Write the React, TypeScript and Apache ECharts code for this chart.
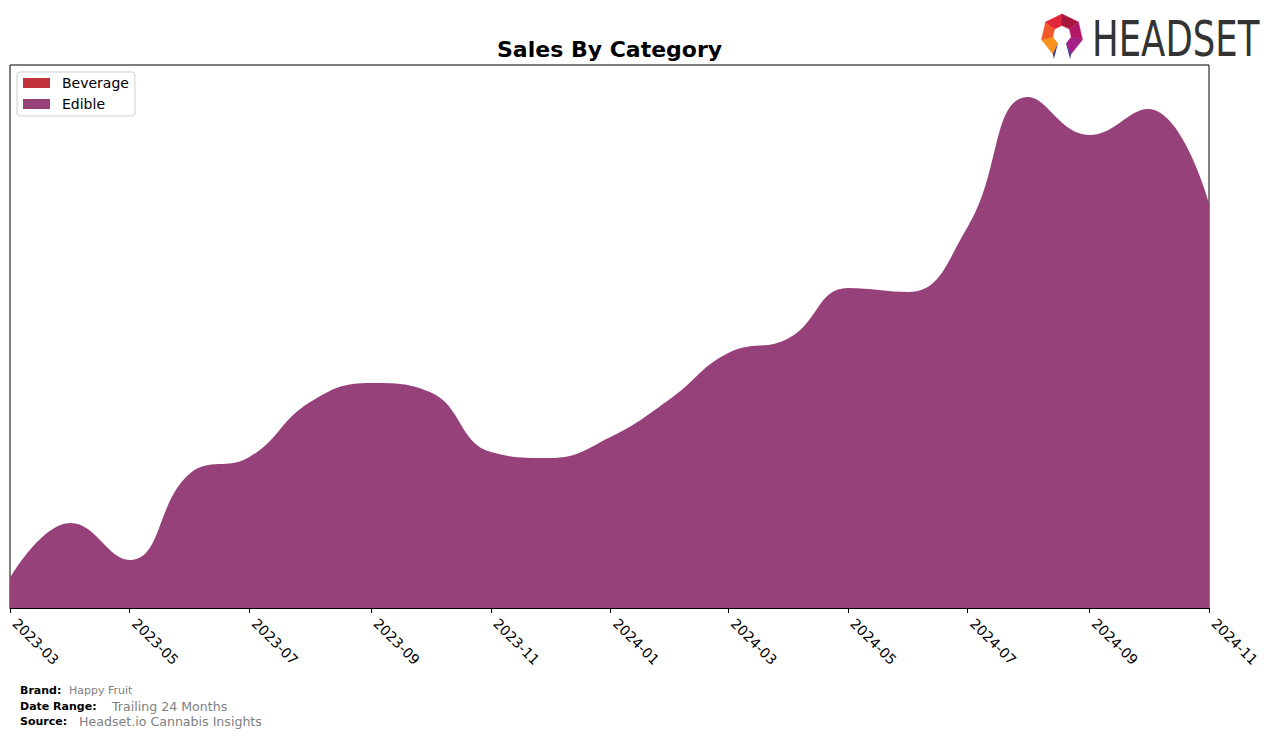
import React, { useEffect, useRef } from "react";
import * as echarts from "echarts";

const months = [
  "2023-03", "2023-04", "2023-05", "2023-06", "2023-07", "2023-08", "2023-09",
  "2023-10", "2023-11", "2023-12", "2024-01", "2024-02", "2024-03", "2024-04",
  "2024-05", "2024-06", "2024-07", "2024-08", "2024-09", "2024-10", "2024-11",
];
const edibleValues = [
  30, 85, 48, 135, 151, 206, 225, 216, 156, 150, 171, 210, 255, 270, 320, 316,
  381, 511, 473, 499, 405,
];
const beverageValues = [
  0, 0, 0, 0, 0, 0, 0, 0, 0, 0, 0, 0, 0, 0, 0, 0, 0, 0, 0, 0, 0,
];
const tickLabels = [
  "2023-03", "2023-05", "2023-07", "2023-09", "2023-11", "2024-01",
  "2024-03", "2024-05", "2024-07", "2024-09", "2024-11",
];
const yMax = 543;

const toTs = (s: string) => {
  const [y, m] = s.split("-").map(Number);
  return Date.UTC(y, m - 1, 1);
};
const fmt = (v: number) => {
  const d = new Date(v);
  const m = d.getUTCMonth() + 1;
  return d.getUTCFullYear() + "-" + (m < 10 ? "0" + m : "" + m);
};

const FONT = "DejaVu Sans";

function logoElements() {
  const cx = 1062;
  const cy = 35;
  const R = 21;
  const r = 9.5;
  const n = 7;
  const pt = (k: number, rad: number) => {
    const a = (k * 2 * Math.PI) / n;
    return [cx + rad * Math.sin(a), cy - rad * Math.cos(a)];
  };
  const edges = [
    { k: 4, color: "#f7931e" },
    { k: 5, color: "#f1592a" },
    { k: 6, color: "#e1263c" },
    { k: 0, color: "#a9173f" },
    { k: 1, color: "#b41768" },
    { k: 2, color: "#a51f86" },
  ];
  const els: any[] = edges.map((e) => ({
    type: "polygon",
    shape: {
      points: [pt(e.k, R), pt(e.k + 1, R), pt(e.k + 1, r), pt(e.k, r)],
    },
    style: { fill: e.color, stroke: e.color, lineWidth: 0.5 },
  }));
  const o3 = pt(3, R);
  const i3 = pt(3, r);
  const o4 = pt(4, R);
  const i4 = pt(4, r);
  els.push({
    type: "polygon",
    shape: { points: [o3, i3, [o3[0] - 1, 59]] },
    style: { fill: "#3b3296" },
  });
  els.push({
    type: "polygon",
    shape: { points: [i3, [i3[0] + 6, o3[1] + 2], o3] },
    style: { fill: "#6a58d6" },
  });
  els.push({
    type: "polygon",
    shape: { points: [o4, i4, [o4[0] + 1, 59]] },
    style: { fill: "#3b3296" },
  });
  els.push({
    type: "polygon",
    shape: { points: [i4, [i4[0] - 6, o4[1] + 2], o4] },
    style: { fill: "#6a58d6" },
  });
  els.push({
    type: "text",
    x: 1092,
    y: 39,
    scaleX: 0.71,
    style: {
      text: "HEADSET",
      fontFamily: FONT,
      fontSize: 50,
      fill: "#333333",
      textVerticalAlign: "middle",
      textAlign: "left",
    },
  });
  return els;
}

export default function App() {
  const ref = useRef<HTMLDivElement>(null);
  useEffect(() => {
    if (!ref.current) return;
    const chart = echarts.init(ref.current, undefined, { renderer: "svg" });
    const tickTs = tickLabels.map(toTs);
    const xs = months.map(toTs);
    const option: any = {
      animation: false,
      backgroundColor: "#ffffff",
      title: {
        text: "Sales By Category",
        left: 492,
        top: 33,
        textStyle: {
          fontFamily: FONT,
          fontSize: 22,
          fontWeight: "bold",
          color: "#000",
        },
      },
      legend: {
        orient: "vertical",
        left: 17,
        top: 72,
        padding: [4, 6, 5, 6],
        itemGap: 7,
        itemWidth: 27,
        itemHeight: 10,
        icon: "rect",
        backgroundColor: "#fff",
        borderColor: "#d0d0d0",
        borderWidth: 1,
        borderRadius: 3,
        textStyle: { fontFamily: FONT, fontSize: 14, color: "#000", padding: [0, 0, 0, 7] },
        data: ["Beverage", "Edible"],
      },
      grid: {
        left: 10,
        right: 67,
        top: 65,
        bottom: 130,
        show: true,
        borderColor: "#000",
        borderWidth: 1,
        backgroundColor: "transparent",
        containLabel: false,
      },
      xAxis: {
        type: "value",
        min: toTs("2023-03"),
        max: toTs("2024-11"),
        axisLine: { show: true, lineStyle: { color: "#000", width: 1 } },
        axisTick: {
          show: true,
          customValues: tickTs,
          length: 5,
          lineStyle: { color: "#000" },
        },
        axisLabel: {
          customValues: tickTs,
          formatter: (v: number) => fmt(v),
          rotate: -45,
          color: "#000",
          fontFamily: FONT,
          fontSize: 14,
          margin: 8,
          padding: [0, 0, 0, 7],
          hideOverlap: false,
          showMinLabel: true,
          showMaxLabel: true,
        },
        splitLine: { show: false },
      },
      yAxis: {
        type: "value",
        min: 0,
        max: yMax,
        show: false,
        splitLine: { show: false },
      },
      series: [
        {
          name: "Beverage",
          type: "line",
          smooth: 0.45,
          symbol: "none",
          color: "#c1333a",
          lineStyle: { width: 0 },
          areaStyle: { color: "#c1333a", opacity: 1 },
          data: xs.map((x, i) => [x, beverageValues[i]]),
        },
        {
          name: "Edible",
          type: "line",
          smooth: 0.45,
          symbol: "none",
          color: "#964179",
          lineStyle: { width: 0 },
          areaStyle: { color: "#964179", opacity: 1 },
          data: xs.map((x, i) => [x, edibleValues[i] + beverageValues[i]]),
        },
      ],
      graphic: [
        ...logoElements(),
        {
          type: "text",
          x: 20,
          y: 690,
          style: { text: "Brand:", fontFamily: FONT, fontSize: 11, fontWeight: "bold", fill: "#000", textVerticalAlign: "middle" },
        },
        {
          type: "text",
          x: 69,
          y: 690,
          style: { text: "Happy Fruit", fontFamily: FONT, fontSize: 11, fill: "#808080", textVerticalAlign: "middle" },
        },
        {
          type: "text",
          x: 20,
          y: 706,
          style: { text: "Date Range:", fontFamily: FONT, fontSize: 11, fontWeight: "bold", fill: "#000", textVerticalAlign: "middle" },
        },
        {
          type: "text",
          x: 112,
          y: 706,
          style: { text: "Trailing 24 Months", fontFamily: FONT, fontSize: 12.6, fill: "#808080", textVerticalAlign: "middle" },
        },
        {
          type: "text",
          x: 20,
          y: 721,
          style: { text: "Source:", fontFamily: FONT, fontSize: 11, fontWeight: "bold", fill: "#000", textVerticalAlign: "middle" },
        },
        {
          type: "text",
          x: 79,
          y: 721,
          style: { text: "Headset.io Cannabis Insights", fontFamily: FONT, fontSize: 12.6, fill: "#808080", textVerticalAlign: "middle" },
        },
      ],
    };
    chart.setOption(option);
    return () => chart.dispose();
  }, []);
  return (
    <div
      ref={ref}
      style={{ position: "fixed", left: 0, top: 0, width: 1276, height: 738, background: "#fff" }}
    />
  );
}
